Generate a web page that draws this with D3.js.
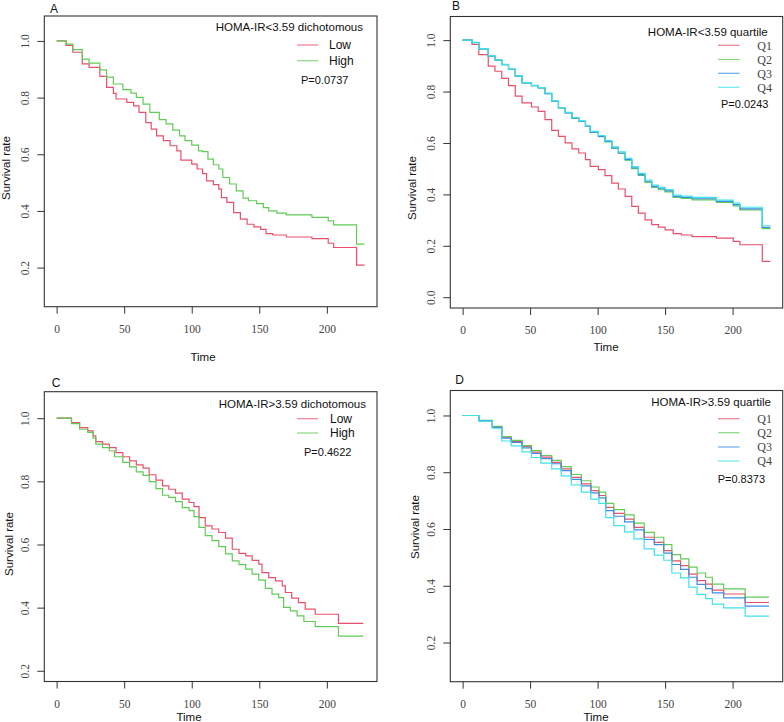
<!DOCTYPE html>
<html>
<head>
<meta charset="utf-8">
<script src="https://cdn.jsdelivr.net/npm/d3@7"></script>
<style>
  html, body { margin: 0; padding: 0; background: #fff; }
  svg { display: block; }
</style>
</head>
<body>
<svg id="chart" width="784" height="722"></svg>
<script>
// ---------------- DATA ----------------
const xTicks = [0, 50, 100, 150, 200];
const yTicksA = [0.2, 0.4, 0.6, 0.8, 1.0];
const yTicksB = [0.0, 0.2, 0.4, 0.6, 0.8, 1.0];
const yTicksC = [0.2, 0.4, 0.6, 0.8, 1.0];
const yTicksD = [0.2, 0.4, 0.6, 0.8, 1.0];

const panelLetters = ["A", "B", "C", "D"];
const legendTitles = ["HOMA-IR<3.59 dichotomous", "HOMA-IR<3.59 quartile", "HOMA-IR>3.59 dichotomous", "HOMA-IR>3.59 quartile"];
const pValues = ["P=0.0737", "P=0.0243", "P=0.4622", "P=0.8373"];
const dichLabels = ["Low", "High"];
const quartLabels = ["Q1", "Q2", "Q3", "Q4"];

// Panel A
const aLowT  = [0, 7, 12, 19, 24, 32, 37, 42, 44, 52, 57, 61, 66, 70, 74, 79, 84, 89, 92, 100, 104, 108, 111, 116, 120, 122, 126, 131, 136, 141, 146, 151, 155, 160, 170, 189, 201, 205, 222, 228];
const aLowS  = [1.0, 0.984, 0.96, 0.919, 0.907, 0.875, 0.836, 0.815, 0.795, 0.783, 0.771, 0.748, 0.712, 0.689, 0.665, 0.648, 0.63, 0.612, 0.579, 0.565, 0.548, 0.532, 0.506, 0.493, 0.477, 0.447, 0.43, 0.394, 0.371, 0.353, 0.344, 0.335, 0.32, 0.315, 0.308, 0.302, 0.286, 0.271, 0.209, 0.209];
const aHighT = [0, 7, 12, 19, 24, 32, 37, 42, 49, 55, 59, 64, 69, 76, 81, 86, 91, 95, 100, 105, 108, 112, 116, 120, 123, 128, 133, 138, 142, 148, 153, 157, 163, 170, 189, 201, 205, 222, 228];
const aHighS = [1.0, 0.989, 0.969, 0.936, 0.922, 0.898, 0.872, 0.848, 0.828, 0.816, 0.801, 0.777, 0.748, 0.722, 0.707, 0.685, 0.665, 0.648, 0.632, 0.612, 0.609, 0.583, 0.563, 0.548, 0.518, 0.495, 0.471, 0.445, 0.436, 0.426, 0.412, 0.4, 0.392, 0.386, 0.377, 0.365, 0.351, 0.283, 0.283];

// Panel B
const bT  = [0, 7, 12, 19, 24, 29, 34, 39, 44, 51, 56, 61, 66, 71, 76, 81, 86, 91, 94.5, 100.6, 105.5, 110.5, 115.4, 120.4, 125.3, 130.2, 135.2, 140.1, 145, 150, 156, 162, 170, 188, 200.5, 205.4, 222, 228];
const bQ1 = [1.0, 0.983, 0.944, 0.899, 0.879, 0.851, 0.823, 0.782, 0.756, 0.74, 0.723, 0.691, 0.649, 0.626, 0.6, 0.577, 0.561, 0.535, 0.509, 0.496, 0.473, 0.444, 0.421, 0.392, 0.353, 0.327, 0.301, 0.282, 0.273, 0.262, 0.247, 0.242, 0.236, 0.23, 0.217, 0.204, 0.139, 0.139];
const bQ2 = [1.0, 0.99, 0.966, 0.938, 0.922, 0.905, 0.886, 0.86, 0.834, 0.823, 0.814, 0.792, 0.762, 0.736, 0.717, 0.697, 0.684, 0.665, 0.641, 0.625, 0.604, 0.579, 0.559, 0.533, 0.5, 0.474, 0.447, 0.427, 0.418, 0.41, 0.388, 0.384, 0.379, 0.369, 0.355, 0.34, 0.267, 0.267];
const bQ3 = [1.0, 0.99, 0.966, 0.938, 0.922, 0.905, 0.886, 0.86, 0.834, 0.823, 0.814, 0.792, 0.762, 0.736, 0.717, 0.697, 0.684, 0.665, 0.642, 0.626, 0.606, 0.581, 0.561, 0.535, 0.503, 0.477, 0.451, 0.431, 0.422, 0.414, 0.392, 0.388, 0.383, 0.373, 0.36, 0.344, 0.272, 0.272];
const bQ4 = [1.0, 0.991, 0.967, 0.939, 0.923, 0.906, 0.887, 0.861, 0.835, 0.824, 0.815, 0.794, 0.764, 0.738, 0.719, 0.699, 0.686, 0.667, 0.645, 0.629, 0.609, 0.585, 0.565, 0.54, 0.508, 0.482, 0.456, 0.436, 0.427, 0.419, 0.397, 0.393, 0.388, 0.378, 0.366, 0.35, 0.278, 0.278];

// Panel C
const cLowT  = [0, 11, 17, 23, 27, 29, 34, 39, 44, 49, 54, 59, 64, 68.5, 73.5, 78.4, 83, 88, 93, 98, 101.7, 105.4, 110, 115, 120, 125, 130, 135, 140, 144.7, 149.6, 152, 157, 162, 167, 169.3, 174, 179, 184, 191.4, 208.6, 227];
const cLowS  = [1.0, 0.986, 0.97, 0.96, 0.944, 0.926, 0.918, 0.907, 0.891, 0.878, 0.865, 0.852, 0.842, 0.821, 0.804, 0.786, 0.775, 0.763, 0.744, 0.733, 0.72, 0.685, 0.659, 0.649, 0.638, 0.62, 0.585, 0.572, 0.564, 0.55, 0.538, 0.511, 0.495, 0.485, 0.469, 0.448, 0.43, 0.416, 0.395, 0.379, 0.35, 0.35];
const cHighT = [0, 11, 17, 23, 27, 29, 34, 39, 42.8, 49, 54, 59, 64, 68.5, 73.5, 78.4, 83, 88, 93, 98, 101.7, 105.4, 110, 115, 120, 125, 130, 135, 140, 144.7, 149.6, 154.5, 159.4, 164.4, 168, 173, 178, 183, 191.4, 208.6, 227];
const cHighS = [1.0, 0.983, 0.965, 0.955, 0.937, 0.918, 0.907, 0.897, 0.878, 0.86, 0.846, 0.83, 0.819, 0.799, 0.777, 0.756, 0.749, 0.736, 0.717, 0.707, 0.688, 0.654, 0.628, 0.612, 0.593, 0.57, 0.548, 0.536, 0.522, 0.506, 0.487, 0.461, 0.443, 0.432, 0.401, 0.39, 0.374, 0.356, 0.34, 0.31, 0.31];

// Panel D
const dT  = [0, 12, 22, 29, 36, 44, 51, 58, 66, 73, 80.5, 88, 95, 101, 106, 112, 120, 127, 134.5, 142, 149, 155, 161.5, 167.6, 173.7, 180, 185, 193.4, 209.3, 227];
const dQ1 = [1.0, 0.982, 0.961, 0.924, 0.909, 0.891, 0.871, 0.853, 0.835, 0.812, 0.782, 0.759, 0.735, 0.718, 0.676, 0.655, 0.635, 0.606, 0.571, 0.553, 0.524, 0.488, 0.471, 0.441, 0.418, 0.406, 0.385, 0.371, 0.341, 0.341];
const dQ2 = [1.0, 0.983, 0.962, 0.926, 0.912, 0.894, 0.876, 0.859, 0.842, 0.82, 0.792, 0.77, 0.748, 0.73, 0.69, 0.668, 0.65, 0.621, 0.588, 0.571, 0.545, 0.51, 0.495, 0.466, 0.445, 0.43, 0.406, 0.389, 0.36, 0.36];
const dQ3 = [1.0, 0.982, 0.958, 0.92, 0.905, 0.886, 0.866, 0.848, 0.83, 0.806, 0.775, 0.752, 0.727, 0.71, 0.665, 0.645, 0.625, 0.597, 0.563, 0.545, 0.515, 0.475, 0.458, 0.43, 0.405, 0.39, 0.375, 0.357, 0.328, 0.328];
const dQ4 = [1.0, 0.98, 0.955, 0.91, 0.893, 0.872, 0.852, 0.832, 0.812, 0.787, 0.755, 0.73, 0.705, 0.69, 0.64, 0.612, 0.59, 0.565, 0.53, 0.508, 0.49, 0.445, 0.428, 0.395, 0.37, 0.355, 0.335, 0.322, 0.293, 0.293];

// ---------------- STYLE ----------------
const COL = { red: "#E8516B", green: "#62CB55", blue: "#3D8EE3", cyan: "#3EE2EA" };
const SANS = "'Liberation Sans', Arial, sans-serif";
const SERIF = "'Liberation Serif', 'Times New Roman', serif";
const xDomain = [-9.12, 237.12];

const zip = (t, s) => t.map((d, i) => ({ t: d, s: s[i] }));

const panels = [
  { box: { l: 44.3, r: 377, t: 16, b: 306.7 }, yDomain: [0.062, 1.088], yTicks: yTicksA,
    letter: { x: 50, y: 12.5 }, ylab: { x: 5.5, y: 168 }, xlab: { x: 203, y: 356.7 }, xtl: 22.6,
    series: [ { d: zip(aLowT, aLowS), c: COL.red }, { d: zip(aHighT, aHighS), c: COL.green } ],
    legend: { type: "d", titleR: 363, titleY: 26.7, lineX: [297, 318], rows: [45, 60.7], labX: 329, pX: 301, pY: 80 } },
  { box: { l: 450.3, r: 782.7, t: 16.5, b: 308 }, yDomain: [-0.042, 1.092], yTicks: yTicksB,
    letter: { x: 452, y: 10 }, ylab: { x: 412, y: 188 }, xlab: { x: 606, y: 346.7 }, xtl: 22,
    series: [ { d: zip(bT, bQ1), c: COL.red }, { d: zip(bT, bQ2), c: COL.green }, { d: zip(bT, bQ3), c: COL.blue }, { d: zip(bT, bQ4), c: COL.cyan } ],
    legend: { type: "q", titleR: 767.7, titleY: 31.5, lineX: [718, 739.5], rows: [45.3, 59.5, 73.3, 87.3], labR: 772, pX: 721, pY: 104.3 } },
  { box: { l: 44.3, r: 377, t: 391.7, b: 681.5 }, yDomain: [0.166, 1.084], yTicks: yTicksC,
    letter: { x: 51.7, y: 386.5 }, ylab: { x: 8.7, y: 544 }, xlab: { x: 189, y: 717 }, xtl: 22.2,
    series: [ { d: zip(cLowT, cLowS), c: COL.red }, { d: zip(cHighT, cHighS), c: COL.green } ],
    legend: { type: "d", titleR: 366, titleY: 403.7, lineX: [297, 318], rows: [418.7, 433], labX: 330, pX: 304, pY: 451.7 } },
  { box: { l: 450.3, r: 782.7, t: 390.5, b: 681.7 }, yDomain: [0.062, 1.088], yTicks: yTicksD,
    letter: { x: 455.3, y: 383.7 }, ylab: { x: 415.3, y: 527 }, xlab: { x: 596, y: 717 }, xtl: 22,
    series: [ { d: zip(dT, dQ1), c: COL.red }, { d: zip(dT, dQ2), c: COL.green }, { d: zip(dT, dQ3), c: COL.blue }, { d: zip(dT, dQ4), c: COL.cyan } ],
    legend: { type: "q", titleR: 771, titleY: 401.7, lineX: [718, 739.5], rows: [418.7, 432.7, 447, 461], labR: 772, pX: 717.7, pY: 478.7 } }
];

const svg = d3.select("#chart");

panels.forEach((p, i) => {
  const x = d3.scaleLinear().domain(xDomain).range([p.box.l, p.box.r]);
  const y = d3.scaleLinear().domain(p.yDomain).range([p.box.b, p.box.t]);
  const g = svg.append("g");

  // x axis
  const gx = g.append("g").attr("transform", `translate(0,${p.box.b})`)
    .call(d3.axisBottom(x).tickValues(xTicks).tickSize(7).tickFormat(d3.format("d")));
  gx.select(".domain").remove();
  gx.selectAll(".tick line").attr("stroke", "#333").attr("stroke-width", 1);
  gx.selectAll(".tick text").attr("y", p.xtl).attr("dy", "0.35em")
    .attr("font-family", SERIF).attr("font-size", 11.5).attr("fill", "#444");

  // y axis
  const gy = g.append("g").attr("transform", `translate(${p.box.l},0)`)
    .call(d3.axisLeft(y).tickValues(p.yTicks).tickSize(7).tickFormat(d3.format(".1f")));
  gy.select(".domain").remove();
  gy.selectAll(".tick line").attr("stroke", "#333").attr("stroke-width", 1);
  gy.selectAll(".tick text").attr("x", 0).attr("y", 0).attr("dy", "0.35em")
    .attr("text-anchor", "middle")
    .attr("transform", "translate(-19,0) rotate(-90)")
    .attr("font-family", SERIF).attr("font-size", 11.5).attr("fill", "#444");

  // survival lines
  const line = d3.line().x(d => x(d.t)).y(d => y(d.s)).curve(d3.curveStepAfter);
  p.series.forEach(s => {
    g.append("path").datum(s.d).attr("d", line)
      .attr("fill", "none").attr("stroke", s.c).attr("stroke-width", 1.2);
  });

  // box
  g.append("rect").attr("x", p.box.l).attr("y", p.box.t)
    .attr("width", p.box.r - p.box.l).attr("height", p.box.b - p.box.t)
    .attr("fill", "none").attr("stroke", "#333").attr("stroke-width", 1.1);

  // labels
  g.append("text").attr("x", p.letter.x).attr("y", p.letter.y)
    .attr("font-family", SANS).attr("font-size", 12).attr("fill", "#111").text(panelLetters[i]);
  g.append("text").attr("transform", `translate(${p.ylab.x},${p.ylab.y}) rotate(-90)`)
    .attr("text-anchor", "middle").attr("dy", "0.35em")
    .attr("font-family", SANS).attr("font-size", 11.5).attr("fill", "#111").text("Survival rate");
  g.append("text").attr("x", p.xlab.x).attr("y", p.xlab.y).attr("dy", "0.35em")
    .attr("text-anchor", "middle")
    .attr("font-family", SANS).attr("font-size", 11.5).attr("fill", "#111").text("Time");

  // legend
  const L = p.legend;
  g.append("text").attr("x", L.titleR).attr("y", L.titleY).attr("dy", "0.35em")
    .attr("text-anchor", "end").attr("font-family", SANS).attr("font-size", 11.5).attr("fill", "#111")
    .text(legendTitles[i]);
  const labels = L.type === "d" ? dichLabels : quartLabels;
  L.rows.forEach((ry, k) => {
    g.append("line").attr("x1", L.lineX[0]).attr("x2", L.lineX[1]).attr("y1", ry).attr("y2", ry)
      .attr("stroke", p.series[k].c).attr("stroke-width", 1.2).attr("stroke-opacity", 0.75);
    if (L.type === "d") {
      g.append("text").attr("x", L.labX).attr("y", ry).attr("dy", "0.35em")
        .attr("font-family", SANS).attr("font-size", 12).attr("fill", "#111").text(labels[k]);
    } else {
      g.append("text").attr("x", L.labR).attr("y", ry).attr("dy", "0.35em").attr("text-anchor", "end")
        .attr("font-family", SERIF).attr("font-size", 12).attr("fill", "#444").text(labels[k]);
    }
  });
  g.append("text").attr("x", L.pX).attr("y", L.pY).attr("dy", "0.35em")
    .attr("font-family", SANS).attr("font-size", 11).attr("fill", "#111").text(pValues[i]);
});
</script>
</body>
</html>
